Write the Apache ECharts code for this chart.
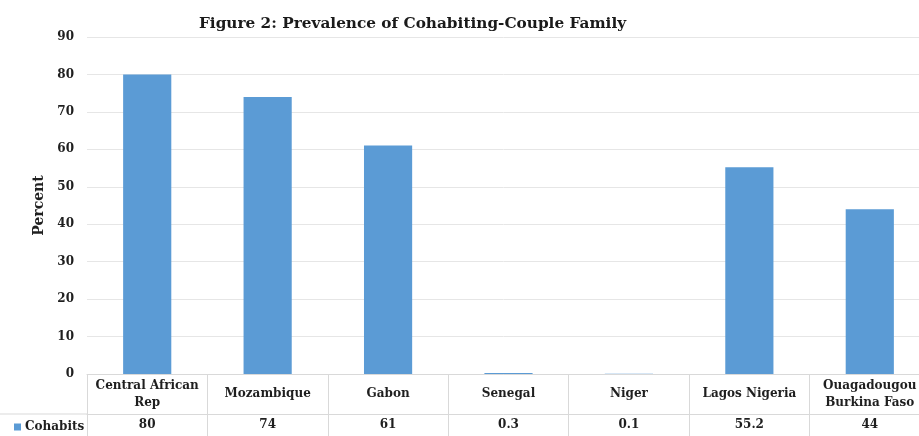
<!DOCTYPE html>
<html>
<head>
<meta charset="utf-8">
<script src="https://cdn.jsdelivr.net/npm/echarts@6/dist/echarts.min.js"></script>
<style>
  html, body { margin: 0; padding: 0; background: #fff; }
  #main { width: 919px; height: 436px; }
</style>
</head>
<body>
<div id="main"></div>
<script>
var categories = ['Central African\nRep', 'Mozambique', 'Gabon', 'Senegal', 'Niger', 'Lagos Nigeria', 'Ouagadougou\nBurkina Faso'];
var cohabits = [80, 74, 61, 0.3, 0.1, 55.2, 44];
var yTicks = { min: 0, max: 90, interval: 10 };

var serif = 'DejaVu Serif';
var txt = '#1f1f1f';
var tableLine = '#d9d9d9';

var myChart = echarts.init(document.getElementById('main'));

myChart.setOption({
    animation: false,
    backgroundColor: '#fff',
    title: {
        text: 'Figure 2: Prevalence of Cohabiting-Couple Family',
        left: 194,
        top: 12,
        textStyle: {
            fontFamily: serif,
            fontWeight: 'bold',
            fontSize: 15.3,
            color: '#1a1a1a'
        }
    },
    legend: {
        data: ['Cohabits'],
        left: 9,
        top: 416,
        icon: 'rect',
        itemWidth: 7,
        itemHeight: 7,
        itemGap: 4,
        textStyle: {
            fontFamily: serif,
            fontWeight: 'bold',
            fontSize: 12,
            color: txt,
            padding: [0, 0, 0, -1]
        }
    },
    grid: {
        left: 87,
        width: 843,
        top: 37,
        height: 337,
        containLabel: false,
        outerBoundsMode: 'none'
    },
    xAxis: [{
        type: 'category',
        data: categories,
        position: 'bottom',
        axisLine: { lineStyle: { color: tableLine } },
        axisTick: { show: true, interval: 0, length: 40, lineStyle: { color: tableLine } },
        axisLabel: {
            interval: 0,
            margin: 20,
            verticalAlign: 'middle',
            lineHeight: 17,
            fontFamily: serif,
            fontWeight: 'bold',
            fontSize: 12,
            color: txt
        }
    }, {
        type: 'category',
        data: cohabits.map(function (v) { return String(v); }),
        position: 'bottom',
        offset: 40,
        axisLine: { lineStyle: { color: tableLine } },
        axisTick: { show: true, interval: 0, length: 22, lineStyle: { color: tableLine } },
        axisLabel: {
            interval: 0,
            margin: 11,
            verticalAlign: 'middle',
            fontFamily: serif,
            fontWeight: 'bold',
            fontSize: 12,
            color: txt
        }
    }],
    yAxis: {
        type: 'value',
        min: yTicks.min,
        max: yTicks.max,
        interval: yTicks.interval,
        name: 'Percent',
        nameLocation: 'middle',
        nameGap: 36,
        nameTextStyle: {
            fontFamily: serif,
            fontWeight: 'bold',
            fontSize: 14,
            color: txt
        },
        axisLine: { show: false },
        axisTick: { show: false },
        splitLine: { lineStyle: { color: '#e6e6e6' } },
        axisLabel: {
            margin: 13,
            fontFamily: serif,
            fontWeight: 'bold',
            fontSize: 12,
            color: txt
        }
    },
    graphic: [{
        type: 'line',
        shape: { x1: 0, y1: 414, x2: 87, y2: 414 },
        style: { stroke: tableLine, lineWidth: 1 }
    }],
    series: [{
        name: 'Cohabits',
        type: 'bar',
        xAxisIndex: 0,
        barWidth: '40%',
        itemStyle: { color: '#5b9bd5' },
        data: cohabits
    }]
});
</script>
</body>
</html>
